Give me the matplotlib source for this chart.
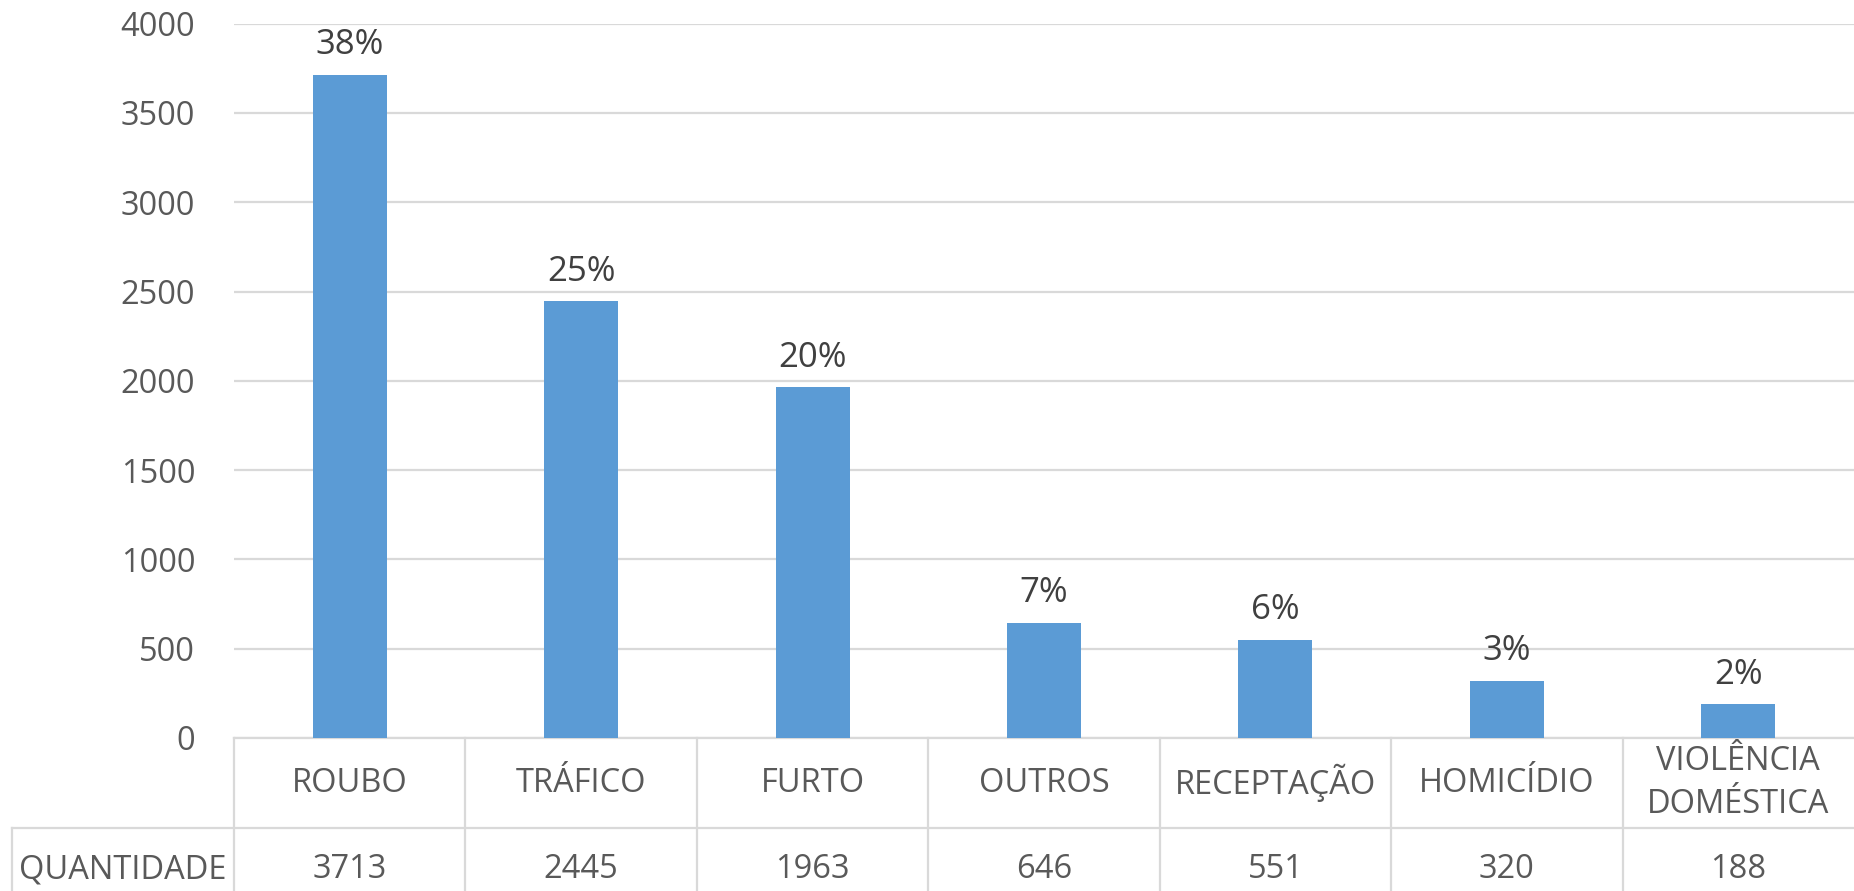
import matplotlib
matplotlib.use("Agg")
import matplotlib.pyplot as plt
from matplotlib.transforms import blended_transform_factory
from matplotlib.lines import Line2D

categories = ["ROUBO", "TRÁFICO", "FURTO", "OUTROS", "RECEPTAÇÃO", "HOMICÍDIO",
              "VIOLÊNCIA\nDOMÉSTICA"]
quantidade = [3713, 2445, 1963, 646, 551, 320, 188]
pct_labels = ["38%", "25%", "20%", "7%", "6%", "3%", "2%"]
row_label = "QUANTIDADE"
yticks = [0, 500, 1000, 1500, 2000, 2500, 3000, 3500, 4000]

BAR = "#5b9bd5"
GRID = "#d9d9d9"
TXT = "#595959"
LBL = "#404040"

plt.rcParams["font.family"] = ["Open Sans", "DejaVu Sans"]

W, H = 1854, 891
fig = plt.figure(figsize=(W / 100, H / 100), dpi=100)
left_px, top_px, zero_px = 234, 23.6, 738
ax = fig.add_axes([left_px / W, 1 - zero_px / H, 1 - left_px / W, (zero_px - top_px) / H])

x = list(range(len(categories)))
ax.bar(x, quantidade, width=0.32, color=BAR, zorder=3)
for xi, v, lab in zip(x, quantidade, pct_labels):
    ax.annotate(lab, (xi, v), xytext=(0, 9), textcoords="offset points",
                ha="center", va="bottom", fontsize=25, color=LBL)

ax.set_xlim(-0.5, len(categories) - 0.5)
ax.set_ylim(0, 4000)
ax.set_yticks(yticks)
ax.set_yticklabels([str(t) for t in yticks], fontsize=23.5, color=TXT)
ax.tick_params(axis="y", length=0, pad=28)
ax.set_xticks([])
ax.grid(axis="y", color=GRID, lw=1.6, zorder=0)
for s in ax.spines.values():
    s.set_visible(False)

# data table under the axis
tr = blended_transform_factory(ax.transData, ax.transAxes)
ax_h = zero_px - top_px
col_w = (W - left_px) / len(categories)
y_mid = -(828 - zero_px) / ax_h
y_bot = -(H - zero_px) / ax_h - 0.01
x_left = -0.5 + (12 - left_px) / col_w
x_right = len(categories) - 0.5

def seg(xs, ys):
    ax.add_line(Line2D(xs, ys, transform=tr, color=GRID, lw=1.6, clip_on=False))

seg([-0.5, x_right], [0, 0])
seg([x_left, x_right], [y_mid, y_mid])
seg([x_left, x_left], [y_mid, y_bot])
for b in range(len(categories)):
    seg([b - 0.5, b - 0.5], [0, y_bot])

y_cat = y_mid / 2
y_val = (y_mid + y_bot) / 2 - 0.009
for xi, cat, v in zip(x, categories, quantidade):
    ax.text(xi, y_cat, cat, transform=tr, ha="center", va="center", fontsize=23.5,
            color=TXT, linespacing=1.4)
    ax.text(xi, y_val, str(v), transform=tr, ha="center", va="center", fontsize=23.5,
            color=TXT)
ax.text((x_left - 0.5) / 2, y_val, row_label, transform=tr, ha="center", va="center",
        fontsize=23.5, color=TXT)

fig.savefig("out.png", dpi=100)
